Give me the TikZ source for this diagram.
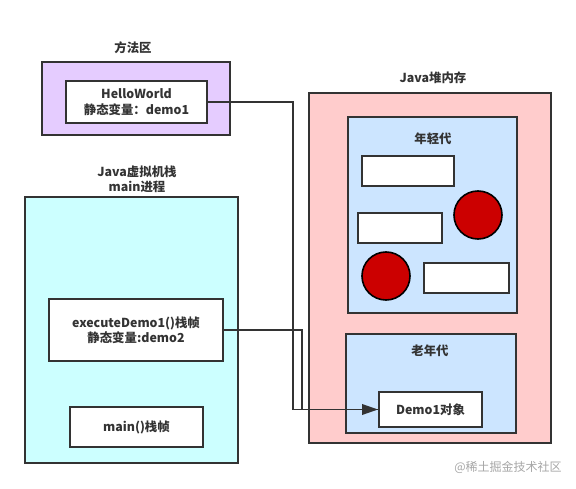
\documentclass[tikz,border=0pt]{standalone}
\usepackage{fontspec}
\setmainfont{Noto Sans CJK SC}
\usetikzlibrary{arrows.meta}
\definecolor{stroke}{HTML}{333333}
\definecolor{purplefill}{HTML}{E5CCFF}
\definecolor{cyanfill}{HTML}{CCFFFF}
\definecolor{pinkfill}{HTML}{FFCCCC}
\definecolor{bluefill}{HTML}{CCE5FF}
\definecolor{redfill}{HTML}{CC0000}
\tikzset{
  box/.style={draw=stroke, line width=1.5pt},
  lbl/.style={font=\fontsize{9.3}{11.5}\selectfont\bfseries, text=stroke, align=center, inner sep=0pt},
  conn/.style={draw=stroke, line width=1.1pt},
  ball/.style={circle, draw=black, line width=1.2pt, fill=redfill, minimum size=36pt, inner sep=0pt},
}
\begin{document}
\begin{tikzpicture}[x=0.75pt,y=-0.75pt]
\useasboundingbox (0,0) rectangle (576,489);
% method area
\node[lbl] (malbl) at (133,48) {方法区};
\draw[box, fill=purplefill] (42,62) rectangle (230,135);
\node[box, fill=white, lbl, inner sep=0pt, minimum width=105.75pt, minimum height=31.5pt] (hello) at (136.5,102) {HelloWorld\\静态变量：demo1};
% JVM stack
\node[lbl] (jvmlbl) at (137,179) {Java虚拟机栈\\main进程};
\draw[box, fill=cyanfill] (25,197) rectangle (238,463);
\node[box, fill=white, lbl, minimum width=130.5pt, minimum height=46.5pt] (exec) at (136,330) {executeDemo1()栈帧\\静态变量:demo2};
\node[box, fill=white, lbl, minimum width=99.75pt, minimum height=30pt] (mainf) at (136.5,427) {main()栈帧};
% heap
\node[lbl] (heaplbl) at (433,78) {Java堆内存};
\draw[box, fill=pinkfill] (309,93) rectangle (551,443);
\draw[box, fill=bluefill] (348,117) rectangle (517,313);
\node[lbl] (younglbl) at (433,139) {年轻代};
\node[box, fill=white, minimum width=69pt, minimum height=22.5pt, inner sep=0pt] (r1) at (408,171) {};
\node[box, fill=white, minimum width=63pt, minimum height=22.5pt, inner sep=0pt] (r2) at (400,228) {};
\node[box, fill=white, minimum width=63.75pt, minimum height=22.5pt, inner sep=0pt] (r3) at (466.5,278) {};
\node[ball] (c1) at (478,215) {};
\node[ball] (c2) at (386,276) {};
\draw[box, fill=bluefill] (346,334) rectangle (516,433);
\node[lbl] (oldlbl) at (430,351) {老年代};
\node[box, fill=white, lbl, minimum width=77.25pt, minimum height=26.25pt] (demo) at (430.5,409.5) {Demo1对象};
% connectors
\coordinate (k1) at (293,102);
\coordinate (k2) at (293,409.5);
\coordinate (k3) at (302,330);
\coordinate (k4) at (302,409.5);
\draw[conn] (hello.east) -- (k1) -- (k2) -- (demo.west);
\draw[conn, -{Triangle[length=12pt,width=8pt]}] (exec.east) -- (k3) -- (k4) -- (demo.west);
% watermark
\node[font=\fontsize{9}{11}\selectfont, text=black!35, inner sep=0pt] (wm) at (508,467) {@稀土掘金技术社区};
\end{tikzpicture}
\end{document}
